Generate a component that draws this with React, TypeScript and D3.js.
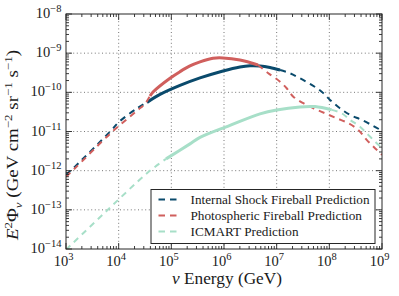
import React from "react";
import * as d3 from "d3";

// ---- data ----
const internalEnergy = [1.0e3, 1.48e3, 6.84e3, 1.03e4, 2.26e4, 3.45e4, 6.1e4, 1.46e5, 3.5e5, 9.57e5, 2.01e6, 3.12e6, 4.82e6, 7.46e6, 1.16e7, 1.79e7, 2.77e7, 4.62e7, 7.16e7, 1.03e8, 1.59e8, 2.47e8, 4.11e8, 6.82e8, 1.0e9];
const internalFlux = [7.8e-13, 1.27e-12, 9.9e-12, 1.79e-11, 3.93e-11, 5.52e-11, 8.83e-11, 1.5e-10, 2.33e-10, 3.52e-10, 4.45e-10, 4.77e-10, 4.71e-10, 4.31e-10, 3.72e-10, 3.07e-10, 2.29e-10, 1.55e-10, 1.04e-10, 6.4e-11, 3.93e-11, 2.65e-11, 1.98e-11, 1.39e-11, 1.04e-11];
const internalSolid = [3.45e4, 1.16e7];

const photoEnergy = [1.0e3, 1.48e3, 6.84e3, 2.26e4, 3.16e4, 3.94e4, 4.49e4, 9.44e4, 1.46e5, 2.26e5, 3.5e5, 6.18e5, 9.57e5, 2.01e6, 4.42e6, 6.84e6, 1.16e7, 1.55e7, 2.07e7, 3.2e7, 4.95e7, 8.26e7, 1.38e8, 2.29e8, 3.55e8, 5.12e8, 7.36e8, 1.0e9];
const photoFlux = [6.95e-13, 1.15e-12, 8.7e-12, 3.45e-11, 5.06e-11, 8.1e-11, 1.02e-10, 2.29e-10, 3.37e-10, 4.71e-10, 5.97e-10, 7.41e-10, 7.55e-10, 6.71e-10, 5.0e-10, 3.13e-10, 1.87e-10, 1.27e-10, 7.76e-11, 5.27e-11, 3.93e-11, 2.93e-11, 2.18e-11, 1.63e-11, 1.1e-11, 6.1e-12, 3.75e-12, 2.53e-12];
const photoSolid = [3.94e4, 4.42e6];

const icmartEnergy = [1.0e3, 5.74e3, 3.61e4, 7.93e4, 2.26e5, 3.5e5, 1.3e6, 4.82e6, 1.0e7, 2.77e7, 5.35e7, 1.11e8, 1.71e8, 2.47e8, 3.82e8, 5.48e8, 7.93e8, 1.0e9];
const icmartFlux = [9.6e-15, 9.06e-14, 9.06e-13, 2.0e-12, 4.83e-12, 7.06e-12, 1.43e-11, 2.81e-11, 3.56e-11, 4.25e-11, 4.32e-11, 3.56e-11, 2.93e-11, 1.98e-11, 1.33e-11, 8.2e-12, 5.04e-12, 3.82e-12];
const icmartSolid = [7.93e4, 1.11e8];

const seriesNames = ["Internal Shock Fireball Prediction", "Photospheric Fireball Prediction", "ICMART Prediction"];
const xTickExps = [3, 4, 5, 6, 7, 8, 9];
const yTickExps = [-14, -13, -12, -11, -10, -9, -8];

const COLORS = ["#0a4a6c", "#d05f5d", "#a7dfc8"];

const W = 399, H = 296;
const M = { left: 66, right: 382, top: 14, bottom: 249 };
const FONT = "Liberation Serif";

export default function App() {
  const x = d3.scaleLog().domain([1e3, 1e9]).range([M.left, M.right]);
  const y = d3.scaleLog().domain([1e-14, 1e-8]).range([M.bottom, M.top]);
  const line = d3
    .line<[number, number]>()
    .x((d) => x(d[0]))
    .y((d) => y(d[1]))
    .curve(d3.curveCatmullRom.alpha(0.5));

  const series = [
    { e: internalEnergy, f: internalFlux, s: internalSolid },
    { e: photoEnergy, f: photoFlux, s: photoSolid },
    { e: icmartEnergy, f: icmartFlux, s: icmartSolid },
  ];

  const stroke = "#262626";

  const xMinor: number[] = [];
  for (let k = 3; k < 9; k++) for (let m = 2; m <= 9; m++) xMinor.push(m * Math.pow(10, k));
  const yMinor: number[] = [];
  for (let k = -14; k < -8; k++) for (let m = 2; m <= 9; m++) yMinor.push(m * Math.pow(10, k));

  const majorLen = 6, minorLen = 3;

  const legendX = 151, legendY = 189.5, legendW = 224, legendH = 54;
  const rowY = [199.5, 215.5, 231.5];
  const legendLen = [179, 171.5, 108];
  const tStyle = { fontFamily: FONT };

  return (
    <svg width={W} height={H} style={{ position: "absolute", left: 0, top: 0, background: "#fff" }}>
      <defs>
        <clipPath id="plotclip">
          <rect x={M.left} y={M.top} width={M.right - M.left} height={M.bottom - M.top} />
        </clipPath>
      </defs>
      <g stroke="#555" strokeWidth={0.8} strokeDasharray="1,2.6">
        {xTickExps.slice(1, -1).map((k) => (
          <line key={"gx" + k} x1={x(Math.pow(10, k))} x2={x(Math.pow(10, k))} y1={M.top} y2={M.bottom} />
        ))}
        {yTickExps.slice(1, -1).map((k) => (
          <line key={"gy" + k} x1={M.left} x2={M.right} y1={y(Math.pow(10, k))} y2={y(Math.pow(10, k))} />
        ))}
      </g>
      <g clipPath="url(#plotclip)" fill="none" strokeLinecap="butt">
        {series.map((sr, i) => {
          const pts: [number, number][] = sr.e.map((e, j) => [e, sr.f[j]]);
          const lo = pts.filter((p) => p[0] <= sr.s[0]);
          const mid = pts.filter((p) => p[0] >= sr.s[0] && p[0] <= sr.s[1]);
          const hi = pts.filter((p) => p[0] >= sr.s[1]);
          return (
            <g key={i} stroke={COLORS[i]}>
              <path d={line(lo) || ""} strokeWidth={2} strokeDasharray="6,5" />
              <path d={line(hi) || ""} strokeWidth={2} strokeDasharray="6,5" />
              <path d={line(mid) || ""} strokeWidth={3} />
            </g>
          );
        })}
      </g>
      <g stroke={stroke} strokeWidth={0.9}>
        {xTickExps.map((k) => {
          const px = x(Math.pow(10, k));
          return (
            <g key={"xt" + k}>
              <line x1={px} x2={px} y1={M.bottom} y2={M.bottom - majorLen} />
              <line x1={px} x2={px} y1={M.top} y2={M.top + majorLen} />
            </g>
          );
        })}
        {xMinor.map((v, i) => {
          const px = x(v);
          return (
            <g key={"xm" + i}>
              <line x1={px} x2={px} y1={M.bottom} y2={M.bottom - minorLen} />
              <line x1={px} x2={px} y1={M.top} y2={M.top + minorLen} />
            </g>
          );
        })}
        {yTickExps.map((k) => {
          const py = y(Math.pow(10, k));
          return (
            <g key={"yt" + k}>
              <line x1={M.left} x2={M.left + majorLen} y1={py} y2={py} />
              <line x1={M.right} x2={M.right - majorLen} y1={py} y2={py} />
            </g>
          );
        })}
        {yMinor.map((v, i) => {
          const py = y(v);
          return (
            <g key={"ym" + i}>
              <line x1={M.left} x2={M.left + minorLen} y1={py} y2={py} />
              <line x1={M.right} x2={M.right - minorLen} y1={py} y2={py} />
            </g>
          );
        })}
      </g>
      <rect x={M.left} y={M.top} width={M.right - M.left} height={M.bottom - M.top} fill="none" stroke={stroke} strokeWidth={1} />
      <g fill="#1a1a1a" fontSize={14.5}>
        {xTickExps.map((k) => (
          <text key={"xl" + k} x={x(Math.pow(10, k)) - 2.5} y={265.5} textAnchor="middle" style={tStyle}>
            <tspan>10</tspan>
            <tspan dy={-6} fontSize={10.5}>{String(k)}</tspan>
          </text>
        ))}
      </g>
      <g fill="#1a1a1a" fontSize={14.5}>
        {yTickExps.map((k) => (
          <text key={"yl" + k} x={61.5} y={y(Math.pow(10, k)) + 4} textAnchor="end" style={tStyle}>
            <tspan>10</tspan>
            <tspan dy={-6} fontSize={10.5}>{"\u2212" + String(-k)}</tspan>
          </text>
        ))}
      </g>
      <text x={227} y={284} textAnchor="middle" fontSize={16} fill="#1a1a1a" style={tStyle} textLength={110} lengthAdjust="spacingAndGlyphs">
        <tspan fontStyle="italic">ν</tspan>
        <tspan> Energy (GeV)</tspan>
      </text>
      <text transform={`translate(18,145) rotate(-90)`} textAnchor="middle" fontSize={16} fill="#1a1a1a" style={tStyle} textLength={190} lengthAdjust="spacingAndGlyphs">
        <tspan fontStyle="italic">E</tspan>
        <tspan dy={-6.5} fontSize={11}>2</tspan>
        <tspan dy={6.5}>Φ</tspan>
        <tspan dy={3.5} fontSize={11} fontStyle="italic">ν</tspan>
        <tspan dy={-3.5}> (GeV cm</tspan>
        <tspan dy={-6.5} fontSize={11}>−2</tspan>
        <tspan dy={6.5}> sr</tspan>
        <tspan dy={-6.5} fontSize={11}>−1</tspan>
        <tspan dy={6.5}> s</tspan>
        <tspan dy={-6.5} fontSize={11}>−1</tspan>
        <tspan dy={6.5}>)</tspan>
      </text>
      <rect x={legendX} y={legendY} width={legendW} height={legendH} fill="#fff" stroke={stroke} strokeWidth={1} />
      {seriesNames.map((name, i) => (
        <g key={"lg" + i}>
          <line x1={158.5} x2={177} y1={rowY[i]} y2={rowY[i]} stroke={COLORS[i]} strokeWidth={2} strokeDasharray="6.5,5" />
          <text x={190.5} y={rowY[i] + 4.5} fontSize={13.2} fill="#1a1a1a" style={tStyle} textLength={legendLen[i]} lengthAdjust="spacingAndGlyphs">{name}</text>
        </g>
      ))}
    </svg>
  );
}
